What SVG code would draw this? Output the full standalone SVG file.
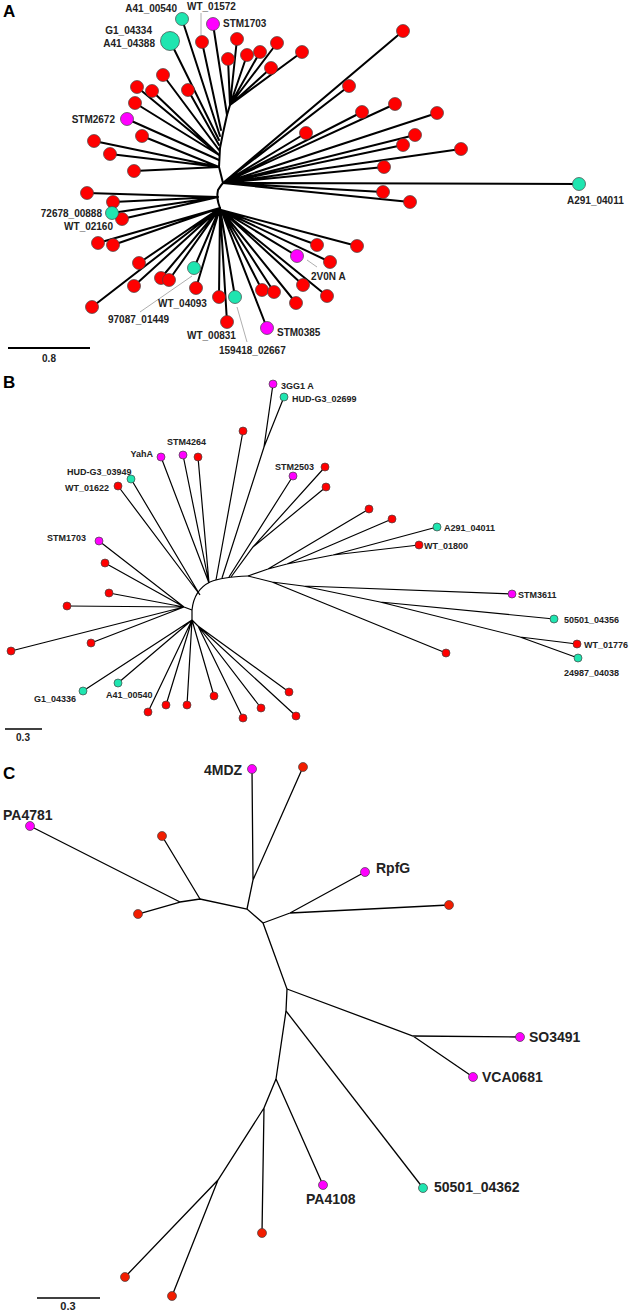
<svg xmlns="http://www.w3.org/2000/svg" width="636" height="1311" viewBox="0 0 636 1311">
<style>
text{font-family:"Liberation Sans",Arial,sans-serif;font-weight:bold;fill:#222}
.pl{font-size:17px;fill:#000}
.la{font-size:10px}
.lb{font-size:9px}
.lc{font-size:14px}
.ea{stroke:#000;stroke-width:2;fill:none;stroke-linecap:round}
.eb{stroke:#000;stroke-width:1.2;fill:none}
.ec{stroke:#000;stroke-width:1.3;fill:none}
.ld{stroke:#999;stroke-width:0.8;fill:none}
.r{fill:#f00;stroke:#444;stroke-width:0.7}
.m{fill:#f0f;stroke:#444;stroke-width:0.7}
.t{fill:#1fe5b0;stroke:#444;stroke-width:0.7}
.rc{fill:#f21d00;stroke:#444;stroke-width:0.7}
</style>
<rect width="636" height="1311" fill="#fff"/>

<g id="connectors">
<!-- Panel A -->
<g class="ea">
<path d="M220,208 Q216,198 218,190 Q221,185 223,183 L219,167 L220,148 L223,133 L227,115 L230,105"/>
<path d="M230,105 L237,39 M230,105 L228,59 M230,105 L247,55 M230,105 L260,52 M230,105 L277,43 M230,105 L271,68 M230,105 L302,52"/>
<path d="M227,115 L213,24 M221,130 L202,42 M220,136 L182,19 M219,140 L170,41 M219,145 L188,90 M219,150 L163,75"/>
<path d="M219,155 L137,87 M219,155 L152,91 M219,155 L135,103 M219,160 L127,119"/>
<path d="M219,167 L142,136 M219,167 L94,141 M219,167 L110,154 M219,167 L134,171"/>
<path d="M223,183 L306,133 M223,183 L403,31 M223,183 L349,86 M223,183 L362,112 M223,183 L395,104 M223,183 L437,113 M223,183 L415,135 M223,183 L403,145 M223,183 L461,149 M223,183 L384,167 M223,183 L579,184 M223,183 L383,192 M223,183 L410,202"/>
<path d="M218,197 L87,193 M218,197 L113,202 M218,197 L112,213 M218,197 L122,219"/>
<path d="M220,208 L98,243 M220,208 L113,245 M220,208 L139,263 M220,208 L134,286 M220,208 L161,278 M220,208 L169,280 M220,208 L194,268 M220,208 L196,288 M220,208 L92,307 M220,208 L219,297 M220,208 L235,297 M220,208 L227,322"/>
<path d="M221,210 L262,290 M221,210 L274,292 M221,210 L296,303 M221,210 L303,285 M221,210 L297,256 M221,210 L317,245 M221,210 L330,262 M221,210 L327,296 M221,210 L357,246 M221,210 L267,328"/>
</g>
<g class="ld">
<path d="M201,13 L201,35 M192,276 L140,312 M237,307 L247,342 M307,260 L317,267"/>
</g>
<path d="M8,348 L90,348" stroke="#000" stroke-width="2"/>

<!-- Panel B -->
<g class="eb">
<path d="M192,620 L192,610 Q194,590 210,582 Q222,577 248,576"/>
<path d="M200,595 L118,486 M200,595 L131,479"/>
<path d="M209,583 L161,457 M209,583 L183,455 M209,583 L198,457"/>
<path d="M192,610 L184,607 L99,541 M184,607 L105,563 M184,607 L109,593 M184,607 L67,606 M184,607 L91,643 M184,607 L11,651"/>
<path d="M192,620 L83,691 M192,620 L118,683 M192,620 L148,712 M192,620 L166,705 M192,620 L187,705 M192,620 L214,696 M192,620 L198,626"/>
<path d="M198,626 L243,718 M198,626 L261,708 M198,626 L289,692 M198,626 L296,716"/>
<path d="M216,580 L243,431 M222,578 L264,447 L273,384 M264,447 L284,397"/>
<path d="M229,577 L293,476 M231,577 L253,547 L325,467 M253,547 L326,487"/>
<path d="M248,576 L268,569 L287,564 L333,555 M268,569 L369,509 M287,564 L392,519 M333,555 L437,527 M333,555 L419,545"/>
<path d="M248,576 L272,582 L303,586 L380,602 L520,637 M272,582 L446,653 M303,586 L512,594 M380,602 L554,619 M520,637 L577,644 M520,637 L578,658"/>
</g>
<path d="M5,729 L42,729" stroke="#000" stroke-width="1.5"/>

<!-- Panel C -->
<g class="ec">
<path d="M180,902 L200,899 L247,909 L263,923 L287,989 L286,1011 L276,1079"/>
<path d="M180,902 L30,826 M180,902 L138,914 M200,899 L162,836"/>
<path d="M247,909 L253,880 L252,769 M253,880 L303,767"/>
<path d="M263,923 L290,913 L365,872 M290,913 L449,905"/>
<path d="M287,989 L413,1036 L520,1037 M413,1036 L473,1077"/>
<path d="M286,1011 L423,1188"/>
<path d="M276,1079 L323,1185 M276,1079 L264,1108 L262,1233 M264,1108 L218,1180 L125,1277 M218,1180 L172,1296"/>
</g>
<path d="M37,1298 L100,1298" stroke="#000" stroke-width="1.5"/>
</g>

<g id="panel-labels">
<text class="pl" x="3" y="17">A</text>
<text class="pl" x="3" y="388">B</text>
<text class="pl" x="3" y="779">C</text>
</g>

<g id="nodes-A">
<g id="a-upper">
<circle class="r" cx="237" cy="39" r="6.5"/><circle class="r" cx="228" cy="59" r="6.5"/><circle class="r" cx="247" cy="55" r="6.5"/><circle class="r" cx="260" cy="52" r="6.5"/><circle class="r" cx="277" cy="43" r="6.5"/><circle class="r" cx="271" cy="68" r="6.5"/><circle class="r" cx="302" cy="52" r="6.5"/>
<circle class="r" cx="202" cy="42" r="6.5"/><circle class="r" cx="188" cy="90" r="6.5"/><circle class="r" cx="163" cy="75" r="6.5"/><circle class="r" cx="137" cy="87" r="6.5"/><circle class="r" cx="152" cy="91" r="6.5"/><circle class="r" cx="135" cy="103" r="6.5"/>
<circle class="r" cx="142" cy="136" r="6.5"/><circle class="r" cx="94" cy="141" r="6.5"/><circle class="r" cx="110" cy="154" r="6.5"/><circle class="r" cx="134" cy="171" r="6.5"/>
</g>
<g id="a-right">
<circle class="r" cx="306" cy="133" r="6.5"/><circle class="r" cx="403" cy="31" r="6.5"/><circle class="r" cx="349" cy="86" r="6.5"/><circle class="r" cx="362" cy="112" r="6.5"/><circle class="r" cx="395" cy="104" r="6.5"/><circle class="r" cx="437" cy="113" r="6.5"/><circle class="r" cx="415" cy="135" r="6.5"/><circle class="r" cx="403" cy="145" r="6.5"/><circle class="r" cx="461" cy="149" r="6.5"/><circle class="r" cx="384" cy="167" r="6.5"/><circle class="r" cx="383" cy="192" r="6.5"/><circle class="r" cx="410" cy="202" r="6.5"/>
</g>
<g id="a-lower">
<circle class="r" cx="87" cy="193" r="6.5"/><circle class="r" cx="113" cy="202" r="6.5"/><circle class="r" cx="122" cy="219" r="6.5"/>
<circle class="r" cx="98" cy="243" r="6.5"/><circle class="r" cx="113" cy="245" r="6.5"/><circle class="r" cx="139" cy="263" r="6.5"/><circle class="r" cx="134" cy="286" r="6.5"/><circle class="r" cx="161" cy="278" r="6.5"/><circle class="r" cx="169" cy="280" r="6.5"/><circle class="r" cx="196" cy="288" r="6.5"/><circle class="r" cx="92" cy="307" r="6.5"/><circle class="r" cx="219" cy="297" r="6.5"/><circle class="r" cx="227" cy="322" r="6.5"/>
<circle class="r" cx="262" cy="290" r="6.5"/><circle class="r" cx="274" cy="292" r="6.5"/><circle class="r" cx="296" cy="303" r="6.5"/><circle class="r" cx="303" cy="285" r="6.5"/><circle class="r" cx="317" cy="245" r="6.5"/><circle class="r" cx="330" cy="262" r="6.5"/><circle class="r" cx="327" cy="296" r="6.5"/><circle class="r" cx="357" cy="246" r="6.5"/>
</g>
<g id="a-labelled">
<circle class="t" cx="182" cy="19" r="6.5"/>
<circle class="m" cx="213" cy="24" r="6.5"/>
<circle class="t" cx="170" cy="41" r="9.5"/>
<circle class="m" cx="127" cy="119" r="6.5"/>
<circle class="t" cx="112" cy="213" r="6.5"/>
<circle class="t" cx="194" cy="268" r="6.5"/>
<circle class="t" cx="235" cy="297" r="6.5"/>
<circle class="m" cx="267" cy="328" r="6.5"/>
<circle class="m" cx="297" cy="256" r="6.5"/>
<circle class="t" cx="579" cy="184" r="6.5"/>
</g>
<g id="a-text" class="la">
<text class="la" x="177" y="12" text-anchor="end">A41_00540</text>
<text class="la" x="187" y="10">WT_01572</text>
<text class="la" x="223" y="27">STM1703</text>
<text class="la" x="152" y="34" text-anchor="end">G1_04334</text>
<text class="la" x="155" y="47" text-anchor="end">A41_04388</text>
<text class="la" x="115" y="123" text-anchor="end">STM2672</text>
<text class="la" x="102" y="217" text-anchor="end">72678_00888</text>
<text class="la" x="113" y="230" text-anchor="end">WT_02160</text>
<text class="la" x="158" y="307">WT_04093</text>
<text class="la" x="108" y="323">97087_01449</text>
<text class="la" x="187" y="339">WT_00831</text>
<text class="la" x="219" y="354">159418_02667</text>
<text class="la" x="277" y="336">STM0385</text>
<text class="la" x="311" y="280">2V0N A</text>
<text class="la" x="567" y="204">A291_04011</text>
<text class="la" x="49" y="362" text-anchor="middle">0.8</text>
</g>
</g>

<g id="nodes-B">
<circle class="r" cx="243" cy="431" r="4"/>
<circle class="m" cx="273" cy="384" r="4"/><circle class="t" cx="284" cy="397" r="4"/>
<circle class="m" cx="161" cy="457" r="4"/><circle class="m" cx="183" cy="455" r="4"/><circle class="r" cx="198" cy="457" r="4"/>
<circle class="t" cx="131" cy="479" r="4"/><circle class="r" cx="118" cy="486" r="4"/>
<circle class="m" cx="99" cy="541" r="4"/><circle class="r" cx="105" cy="563" r="4"/><circle class="r" cx="109" cy="593" r="4"/><circle class="r" cx="67" cy="606" r="4"/><circle class="r" cx="91" cy="643" r="4"/><circle class="r" cx="11" cy="651" r="4"/>
<circle class="m" cx="293" cy="476" r="4"/><circle class="r" cx="325" cy="467" r="4"/><circle class="r" cx="326" cy="487" r="4"/>
<circle class="r" cx="369" cy="509" r="4"/><circle class="r" cx="392" cy="519" r="4"/><circle class="t" cx="437" cy="527" r="4"/><circle class="r" cx="419" cy="545" r="4"/>
<circle class="m" cx="512" cy="594" r="4"/><circle class="t" cx="554" cy="619" r="4"/><circle class="r" cx="577" cy="644" r="4"/><circle class="t" cx="578" cy="658" r="4"/><circle class="r" cx="446" cy="653" r="4"/>
<circle class="t" cx="83" cy="691" r="4"/><circle class="t" cx="118" cy="683" r="4"/><circle class="r" cx="148" cy="712" r="4"/><circle class="r" cx="166" cy="705" r="4"/><circle class="r" cx="187" cy="705" r="4"/><circle class="r" cx="214" cy="696" r="4"/><circle class="r" cx="243" cy="718" r="4"/><circle class="r" cx="261" cy="708" r="4"/><circle class="r" cx="289" cy="692" r="4"/><circle class="r" cx="296" cy="716" r="4"/>
<g id="b-text">
<text class="lb" x="281" y="389">3GG1 A</text>
<text class="lb" x="292" y="402">HUD-G3_02699</text>
<text class="lb" x="167" y="445">STM4264</text>
<text class="lb" x="153" y="457" text-anchor="end">YahA</text>
<text class="lb" x="275" y="470">STM2503</text>
<text class="lb" x="67" y="475">HUD-G3_03949</text>
<text class="lb" x="65" y="491">WT_01622</text>
<text class="lb" x="47" y="541">STM1703</text>
<text class="lb" x="444" y="531">A291_04011</text>
<text class="lb" x="424" y="549">WT_01800</text>
<text class="lb" x="518" y="598">STM3611</text>
<text class="lb" x="564" y="623">50501_04356</text>
<text class="lb" x="584" y="648">WT_01776</text>
<text class="lb" x="564" y="676">24987_04038</text>
<text class="lb" x="34" y="702">G1_04336</text>
<text class="lb" x="106" y="698">A41_00540</text>
<text class="la" x="23" y="741" text-anchor="middle">0.3</text>
</g>
</g>

<g id="nodes-C">
<circle class="m" cx="252" cy="769" r="4.5"/><circle class="rc" cx="303" cy="767" r="4.5"/>
<circle class="m" cx="30" cy="826" r="4.5"/><circle class="rc" cx="162" cy="836" r="4.5"/><circle class="rc" cx="138" cy="914" r="4.5"/>
<circle class="m" cx="365" cy="872" r="4.5"/><circle class="rc" cx="449" cy="905" r="4.5"/>
<circle class="m" cx="520" cy="1037" r="4.5"/><circle class="m" cx="473" cy="1077" r="4.5"/>
<circle class="t" cx="423" cy="1188" r="4.5"/><circle class="m" cx="323" cy="1185" r="4.5"/>
<circle class="rc" cx="262" cy="1233" r="4.5"/><circle class="rc" cx="125" cy="1277" r="4.5"/><circle class="rc" cx="172" cy="1296" r="4.5"/>
<g id="c-text">
<text class="lc" x="204" y="775">4MDZ</text>
<text class="lc" x="3" y="820">PA4781</text>
<text class="lc" x="376" y="873">RpfG</text>
<text class="lc" x="529" y="1042">SO3491</text>
<text class="lc" x="482" y="1082">VCA0681</text>
<text class="lc" x="434" y="1192">50501_04362</text>
<text class="lc" x="306" y="1204">PA4108</text>
<text class="la" x="68" y="1310" text-anchor="middle" style="font-size:11px">0.3</text>
</g>
</g>
</svg>
